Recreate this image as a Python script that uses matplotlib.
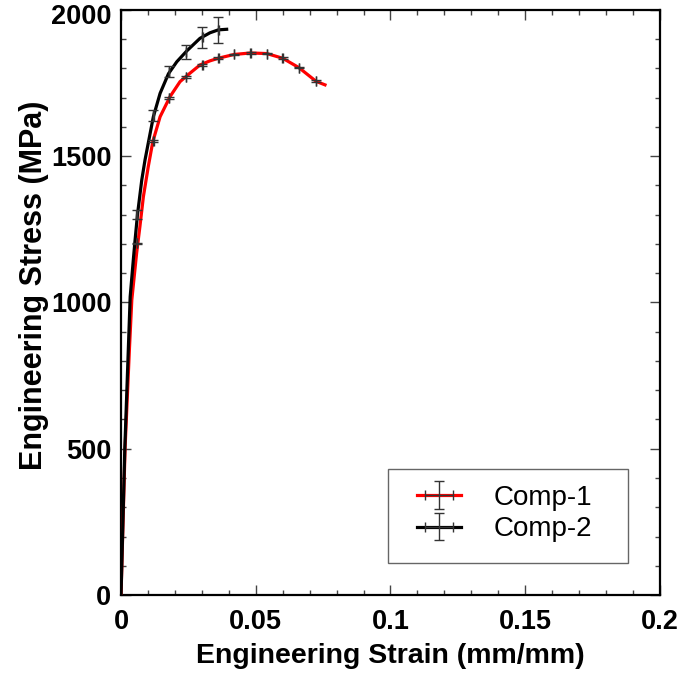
import numpy as np
import matplotlib
matplotlib.use("Agg")
import matplotlib.pyplot as plt
from matplotlib.patches import Rectangle
from matplotlib.ticker import MultipleLocator

plt.rcParams['font.family'] = ['Liberation Sans', 'DejaVu Sans']

# smooth curves (strain mm/mm, stress MPa)
c1_strain = [0, 0.0015, 0.0031, 0.0040, 0.0058, 0.0070, 0.0083, 0.0101, 0.0118, 0.0145,
             0.0182, 0.0219, 0.0256, 0.0293, 0.0330, 0.0361, 0.0420, 0.0481, 0.0541,
             0.0600, 0.0660, 0.0724, 0.0757]
c1_stress = [0, 502, 838, 1009, 1170, 1259, 1362, 1464, 1550, 1635,
             1704, 1755, 1784, 1812, 1826, 1835, 1848, 1853, 1851,
             1835, 1803, 1756, 1744]
c2_strain = [0, 0.0014, 0.0027, 0.0034, 0.0046, 0.0052, 0.0061, 0.0077, 0.0089, 0.0108,
             0.0120, 0.0145, 0.0176, 0.0207, 0.0244, 0.0293, 0.0330, 0.0361, 0.0392]
c2_stress = [0, 500, 838, 1020, 1150, 1212, 1300, 1419, 1487, 1578,
             1635, 1715, 1782, 1823, 1860, 1903, 1922, 1932, 1934]

# error bar points
e1_strain = [0.0060, 0.0120, 0.0178, 0.0241, 0.0302, 0.0361, 0.0420, 0.0481, 0.0541, 0.0600, 0.0660, 0.0724]
e1_stress = [1202, 1552, 1698, 1770, 1812, 1835, 1848, 1853, 1851, 1835, 1803, 1756]
e1_err = [3, 3, 3, 3, 3, 3, 3, 3, 3, 3, 3, 3]
e2_strain = [0.0058, 0.0120, 0.0178, 0.0241, 0.0302, 0.0361]
e2_stress = [1300, 1639, 1789, 1857, 1907, 1932]
e2_err = [16, 20, 19, 24, 36, 45]
strain_err = 0.0001

x_ticks = [0, 0.05, 0.1, 0.15, 0.2]
x_labels = ['0', '0.05', '0.1', '0.15', '0.2']
y_ticks = [0, 500, 1000, 1500, 2000]
y_labels = ['0', '500', '1000', '1500', '']   # 2000 placed by hand, a bit lower

fig = plt.figure(figsize=(6.83, 6.74), dpi=100)
ax = fig.add_axes([0.1772, 0.1172, 0.789, 0.868])

l1, = ax.plot(c1_strain, c1_stress, color='red', lw=2.3, zorder=3, solid_joinstyle='round')
l2, = ax.plot(c2_strain, c2_stress, color='black', lw=2.3, zorder=3, solid_joinstyle='round')
eb1 = ax.errorbar(e1_strain, e1_stress, xerr=strain_err, yerr=e1_err, fmt='none',
                  ecolor='#333333', elinewidth=1, capsize=3.5, capthick=1, zorder=4)
eb2 = ax.errorbar(e2_strain, e2_stress, xerr=strain_err, yerr=e2_err, fmt='none',
                  ecolor='#333333', elinewidth=1, capsize=3.5, capthick=1, zorder=4)

ax.set_xlim(0, 0.2)
ax.set_ylim(0, 2000)
ax.set_xticks(x_ticks)
ax.set_xticklabels(x_labels, fontweight='bold')
ax.set_yticks(y_ticks)
ax.set_yticklabels(y_labels, fontweight='bold')
ax.xaxis.set_minor_locator(MultipleLocator(0.01))
ax.yaxis.set_minor_locator(MultipleLocator(100))
ax.tick_params(which='both', direction='in', top=True, right=True, width=1, color='#444444')
ax.tick_params(which='major', length=7, labelsize=19.5, pad=7)
ax.tick_params(axis='x', which='major', pad=10)
ax.tick_params(which='minor', length=3.5)
ax.annotate('2000', xy=(0, 2000), xycoords=('axes fraction', 'data'),
            xytext=(-7, -5), textcoords='offset points', ha='right', va='center',
            fontsize=19.5, fontweight='bold')
for sp in ax.spines.values():
    sp.set_linewidth(1.6)

ax.set_xlabel('Engineering Strain (mm/mm)', fontsize=20.5, fontweight='bold', labelpad=6)
ax.set_ylabel('Engineering Stress (MPa)', fontsize=22, fontweight='bold')
ax.yaxis.set_label_coords(-0.133, 0.53)

# legend box drawn separately so its size matches the reference
ax.add_patch(Rectangle((0.4954, 0.0547), 0.4452, 0.1607, transform=ax.transAxes,
                       facecolor='white', edgecolor='#666666', lw=1, zorder=5))
leg = ax.legend([(l1, eb1), (l2, eb2)], ['Comp-1', 'Comp-2'], loc='center',
                bbox_to_anchor=(0.7115, 0.1393), borderaxespad=0, borderpad=0,
                fontsize=20, frameon=False, handlelength=1.6,
                handletextpad=1.15, labelspacing=0.2)
leg.set_zorder(6)

fig.savefig('out.png', dpi=100)
